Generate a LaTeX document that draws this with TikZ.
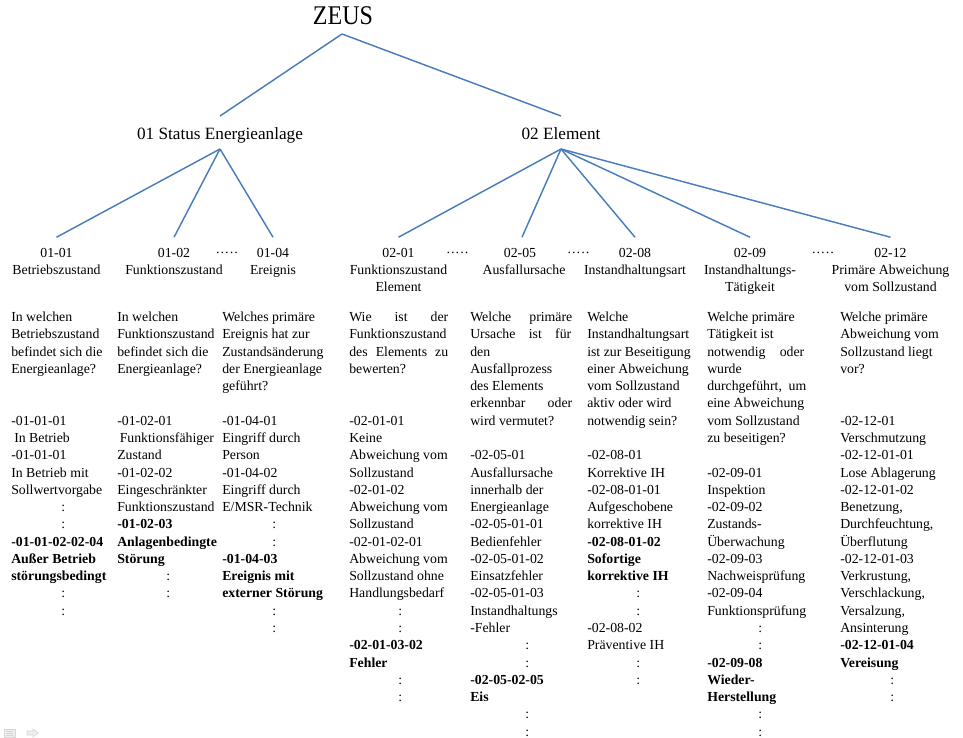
\documentclass[tikz,border=0pt]{standalone}
\usepackage{fontspec}
\setmainfont{Liberation Serif}

% one pixel of the drawing grid
\newdimen\PX \PX=0.75pt
% a line spread to a fixed width (justified text)
\newcommand\J[2]{\makebox[#1\PX][s]{#2}}
% a colon set at an offset from the column's left edge
\newcommand\dd[1]{\hspace*{#1\PX}:}
\newcommand\bodyfont{\fontsize{10.35pt}{12.96pt}\selectfont}
\newcommand\headfont{\fontsize{10.35pt}{12.75pt}\selectfont}
\newcommand\levelfont{\fontsize{12.9pt}{15pt}\selectfont}
\newcommand\rootfont{\fontsize{20.25pt}{24pt}\selectfont}

\definecolor{lineblue}{HTML}{4A7EBB}
\definecolor{iconfill}{HTML}{EEEEEE}
\definecolor{iconline}{HTML}{D6D6D6}

\tikzset{
  conn/.style={draw=lineblue, line width=1.1pt},
  col/.style={anchor=base west, inner sep=0pt, font=\bodyfont},
  head/.style={anchor=base, inner xsep=0pt, inner ysep=5.7pt, font=\headfont},
  gap/.style={anchor=base, inner sep=0pt, font=\headfont},
  level/.style={anchor=base, inner sep=0pt, font=\levelfont},
}

\begin{document}
\begin{tikzpicture}[x=0.75pt, y=-0.75pt]
\useasboundingbox (0,0) rectangle (963,738);

% ---- root and first level
\node[anchor=base, inner sep=0pt, font=\rootfont] (zeus) at (343,25) {\scalebox{0.89}[1]{ZEUS}};
\node[level] (st) at (220,140) {01 Status Energieanlage};
\node[level] (el) at (561,140) {02 Element};

\coordinate (zeus-out) at (342,34);
\coordinate (st-in) at (220,116);
\coordinate (el-in) at (561,116);
\coordinate (st-out) at (220,149);
\coordinate (el-out) at (561,149);

% ---- second level headings
\node[head] (h11) at (56.5,257) {\begin{tabular}[t]{@{}c@{}}01-01\\Betriebszustand\end{tabular}};
\node[head] (h12) at (174,257) {\begin{tabular}[t]{@{}c@{}}01-02\\Funktionszustand\end{tabular}};
\node[head] (h14) at (273,257) {\begin{tabular}[t]{@{}c@{}}01-04\\Ereignis\end{tabular}};
\node[head] (h21) at (398.5,257) {\begin{tabular}[t]{@{}c@{}}02-01\\Funktionszustand\\Element\end{tabular}};
\node[head] (h25) at (522,257) {\begin{tabular}[t]{@{}c@{}}02-05\hspace*{4\PX}\\\hspace*{4\PX}Ausfallursache\end{tabular}};
\node[head] (h28) at (635,257) {\begin{tabular}[t]{@{}c@{}}02-08\\Instandhaltungsart\end{tabular}};
\node[head] (h29) at (750,257) {\begin{tabular}[t]{@{}c@{}}02-09\\Instandhaltungs-\\Tätigkeit\end{tabular}};
\node[head] (h212) at (890.5,257) {\begin{tabular}[t]{@{}c@{}}02-12\\Primäre Abweichung\\vom Sollzustand\end{tabular}};

% ---- omitted headings
\node[gap] (g1) at (227,257) {·····};
\node[gap] (g2) at (457.5,257) {·····};
\node[gap] (g3) at (578.5,257) {·····};
\node[gap] (g4) at (823,257) {·····};

% ---- connectors
\draw[conn] (zeus-out) -- (st-in);
\draw[conn] (zeus-out) -- (el-in);
\foreach \h in {h11,h12,h14} \draw[conn] (st-out) -- (\h.north);
\foreach \h in {h21,h25,h28,h29,h212} \draw[conn] (el-out) -- (\h.north);

% ---- columns: question and codes
\node[col] (c1) at (11,321.5) {\begin{tabular}[t]{@{}l@{}}
In welchen\\
Betriebszustand\\
befindet sich die\\
Energieanlage?\\
\\
\\
-01-01-01\\
\hspace*{3\PX}In Betrieb\\
-01-01-01\\
In Betrieb mit\\
Sollwertvorgabe\\
\dd{50}\\
\dd{50}\\
\textbf{-01-01-02-02-04}\\
\textbf{Außer Betrieb}\\
\textbf{störungsbedingt}\\
\dd{50}\\
\dd{50}
\end{tabular}};

\node[col] (c2) at (117,321.5) {\begin{tabular}[t]{@{}l@{}}
In welchen\\
Funktionszustand\\
befindet sich die\\
Energieanlage?\\
\\
\\
-01-02-01\\
\hspace*{2.5\PX}Funktionsfähiger\\
Zustand\\
-01-02-02\\
Eingeschränkter\\
Funktionszustand\\
\textbf{-01-02-03}\\
\textbf{Anlagenbedingte}\\
\textbf{Störung}\\
\dd{49}\\
\dd{49}
\end{tabular}};

\node[col] (c3) at (222,321.5) {\begin{tabular}[t]{@{}l@{}}
Welches primäre\\
Ereignis hat zur\\
Zustandsänderung\\
der Energieanlage\\
geführt?\\
\\
-01-04-01\\
Eingriff durch\\
Person\\
-01-04-02\\
Eingriff durch\\
E/MSR-Technik\\
\dd{50}\\
\dd{50}\\
\textbf{-01-04-03}\\
\textbf{Ereignis mit}\\
\textbf{externer Störung}\\
\dd{50}\\
\dd{50}
\end{tabular}};

\node[col] (c4) at (349,321.5) {\begin{tabular}[t]{@{}l@{}}
\J{99}{Wie ist der}\\
Funktionszustand\\
\J{99}{des Elements zu}\\
bewerten?\\
\\
\\
-02-01-01\\
Keine\\
Abweichung vom\\
Sollzustand\\
-02-01-02\\
Abweichung vom\\
Sollzustand\\
-02-01-02-01\\
Abweichung vom\\
Sollzustand ohne\\
Handlungsbedarf\\
\dd{49}\\
\dd{49}\\
\textbf{-02-01-03-02}\\
\textbf{Fehler}\\
\dd{49}\\
\dd{49}
\end{tabular}};

\node[col] (c5) at (470,321.5) {\begin{tabular}[t]{@{}l@{}}
\J{102}{Welche primäre}\\
\J{101}{Ursache ist für}\\
den\\
Ausfallprozess\\
des Elements\\
\J{102}{erkennbar oder}\\
wird vermutet?\\
\\
-02-05-01\\
Ausfallursache\\
innerhalb der\\
Energieanlage\\
-02-05-01-01\\
Bedienfehler\\
-02-05-01-02\\
Einsatzfehler\\
-02-05-01-03\\
Instandhaltungs\\
-Fehler\\
\dd{55}\\
\dd{55}\\
\textbf{-02-05-02-05}\\
\textbf{Eis}\\
\dd{55}\\
\dd{55}
\end{tabular}};

\node[col] (c6) at (587,321.5) {\begin{tabular}[t]{@{}l@{}}
Welche\\
Instandhaltungsart\\
ist zur Beseitigung\\
einer Abweichung\\
vom Sollzustand\\
aktiv oder wird\\
notwendig sein?\\
\\
-02-08-01\\
Korrektive IH\\
-02-08-01-01\\
Aufgeschobene\\
korrektive IH\\
\textbf{-02-08-01-02}\\
\textbf{Sofortige}\\
\textbf{korrektive IH}\\
\dd{49}\\
\dd{49}\\
-02-08-02\\
Präventive IH\\
\dd{49}\\
\dd{49}
\end{tabular}};

\node[col] (c7) at (707,321.5) {\begin{tabular}[t]{@{}l@{}}
Welche primäre\\
Tätigkeit ist\\
\J{97}{notwendig oder}\\
wurde\\
\J{99}{durchgeführt, um}\\
eine Abweichung\\
vom Sollzustand\\
zu beseitigen?\\
\\
-02-09-01\\
Inspektion\\
-02-09-02\\
Zustands-\\
Überwachung\\
-02-09-03\\
Nachweisprüfung\\
-02-09-04\\
Funktionsprüfung\\
\dd{51}\\
\dd{51}\\
\textbf{-02-09-08}\\
\textbf{Wieder-}\\
\textbf{Herstellung}\\
\dd{51}\\
\dd{51}
\end{tabular}};

\node[col] (c8) at (840,321.5) {\begin{tabular}[t]{@{}l@{}}
Welche primäre\\
Abweichung vom\\
Sollzustand liegt\\
vor?\\
\\
\\
-02-12-01\\
Verschmutzung\\
-02-12-01-01\\
Lose Ablagerung\\
-02-12-01-02\\
Benetzung,\\
Durchfeuchtung,\\
Überflutung\\
-02-12-01-03\\
Verkrustung,\\
Verschlackung,\\
Versalzung,\\
Ansinterung\\
\textbf{-02-12-01-04}\\
\textbf{Vereisung}\\
\dd{50}\\
\dd{50}
\end{tabular}};

% ---- faint navigation icons in the lower left corner
\filldraw[fill=iconfill, draw=iconline, line width=0.4pt] (4,729) rectangle (15,737);
\foreach \yy in {731,733,735} \draw[iconline, line width=0.5pt] (6,\yy) -- (13,\yy);
\filldraw[fill=iconfill, draw=iconline, line width=0.4pt]
  (27,731) -- (33,731) -- (33,729) -- (38.5,733) -- (33,737) -- (33,735) -- (27,735) -- cycle;
\end{tikzpicture}
\end{document}
